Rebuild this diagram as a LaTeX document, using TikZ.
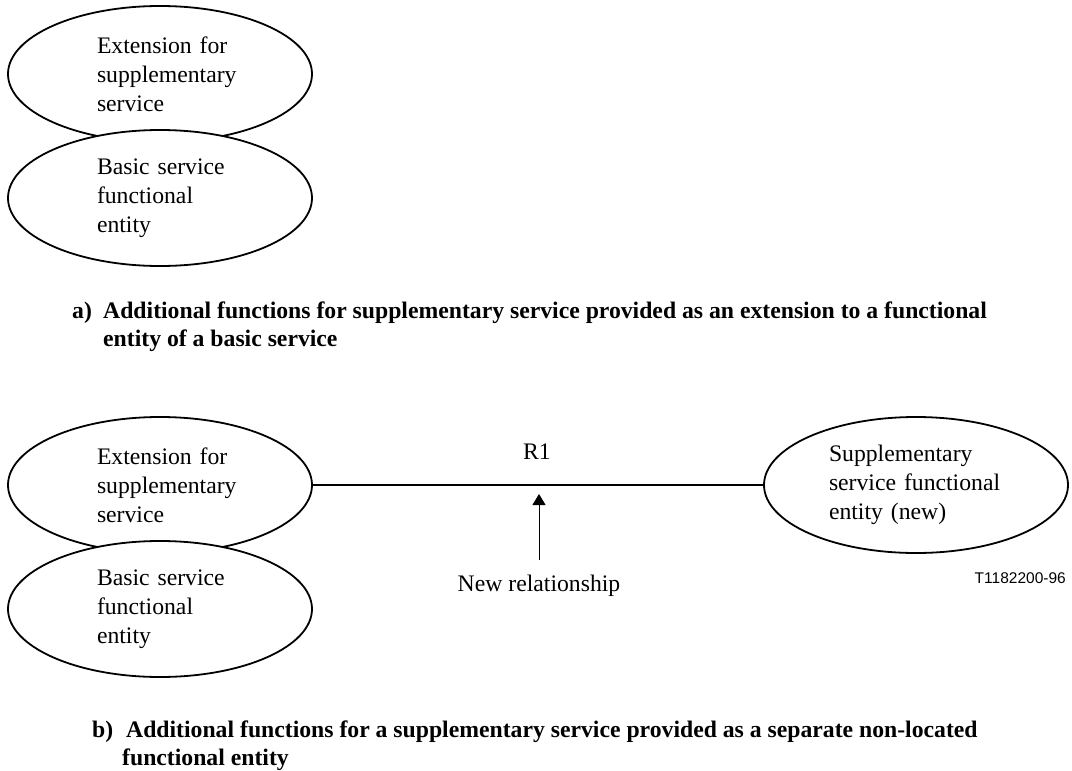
\documentclass[tikz,border=0pt]{standalone}
\usepackage{fontspec}
\setmainfont{Liberation Serif}
\setsansfont{Liberation Sans}
\usetikzlibrary{shapes.geometric, arrows.meta}

\begin{document}
\begin{tikzpicture}[x=1pt, y=-1pt,
        entity/.style={draw, ellipse, fill=white, line width=1.8pt, minimum width=304pt, minimum height=136pt,
            inner sep=0pt, text width=126pt, align=left, font=\fontsize{23.7}{29}\selectfont},
        caption/.style={anchor=north west, inner sep=0pt, align=left, font=\fontsize{23.7}{28}\selectfont\bfseries},
        plain/.style={font=\fontsize{23.7}{29}\selectfont}]
        \useasboundingbox (0,0) rectangle (1072,771);
        \coordinate (A1) at (160,74);
        \coordinate (A2) at (160,198);
        \coordinate (B1) at (160,485);
        \coordinate (B2) at (160,609);
        \coordinate (S) at (916,485);
        \coordinate (tip) at (539,494);

        \node[entity] (extA) at (A1) {\mbox{Extension for}\\\mbox{supplementary}\\service};
        \node[entity] (basicA) at (A2) {\mbox{Basic service}\\functional\\entity};
        \node[caption] (capA) at (72,302) {\makebox[31pt][l]{a)}Additional functions for supplementary service provided as an extension to a functional\\\hspace*{31pt}entity of a basic service};

        \node[entity] (extB) at (B1) {\mbox{Extension for}\\\mbox{supplementary}\\service};
        \node[entity] (basicB) at (B2) {\mbox{Basic service}\\functional\\entity};
        \node[entity, text width=174pt] (supp) at (S) {Supplementary\\\mbox{service functional}\\entity (new)};
        \draw[line width=2.6pt] (extB.east) -- (supp.west);
        \node[plain] (r1) at (537,452) {R1};
        \node[plain] (newrel) at (539,586) {New relationship};
        \draw[-{Triangle[length=11pt,width=13pt]}, line width=0.9pt, shorten <=12pt] (newrel.north) -- (tip);
        \node[font=\sffamily\fontsize{15.5}{18}\selectfont, anchor=east, inner sep=0pt] (fig) at (1066,578) {T1182200-96};
        \node[caption] (capB) at (92,721) {\makebox[34pt][l]{b)}Additional functions for a supplementary service provided as a separate non-located\\\hspace*{30pt}functional entity};
    \end{tikzpicture}
\end{document}
